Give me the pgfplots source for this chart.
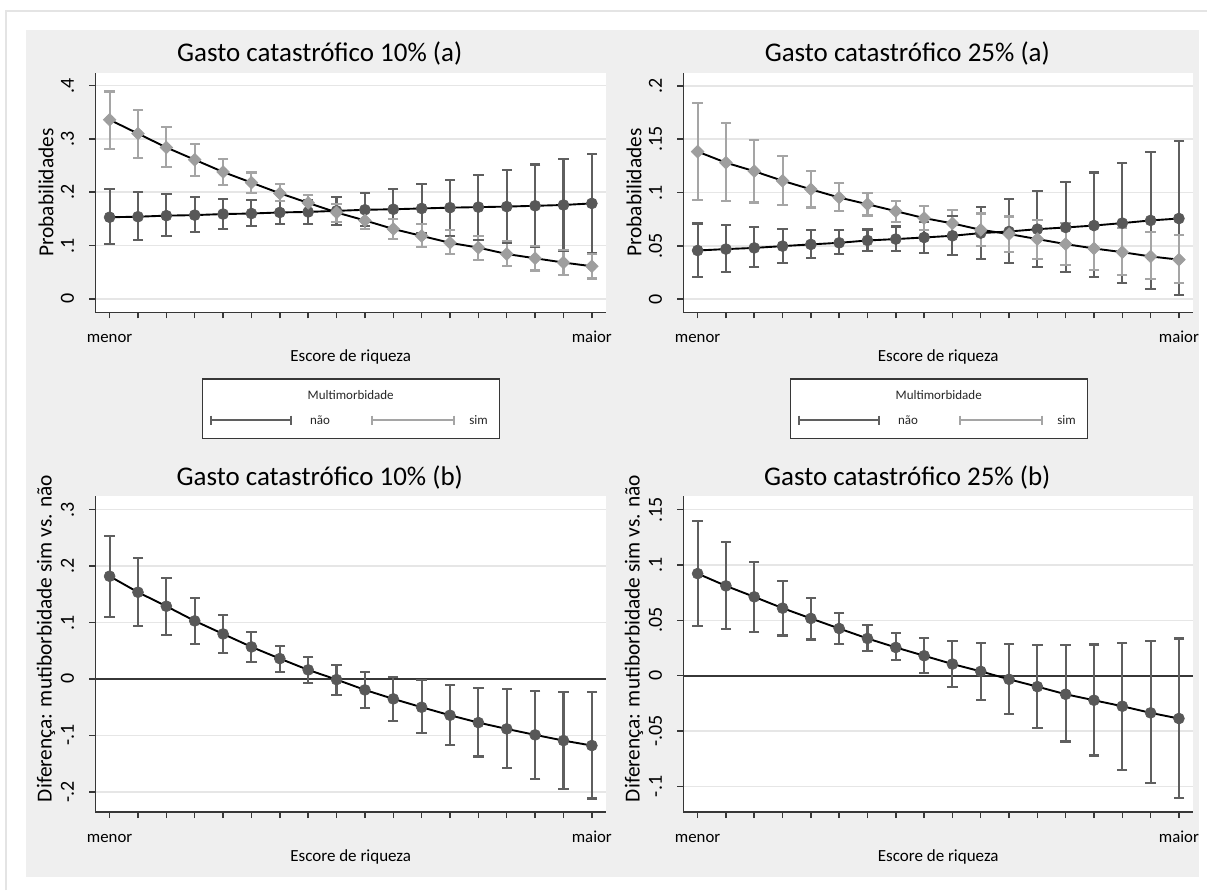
\documentclass[border=0pt]{standalone}
\usepackage{fontspec}
\setmainfont{Carlito}
\usepackage{pgfplots}
\pgfplotsset{compat=1.18}
\usepackage{pgfplotstable}

\definecolor{darkser}{RGB}{88,88,88}
\definecolor{darkerr}{RGB}{95,95,95}
\definecolor{lightser}{RGB}{158,158,158}
\definecolor{lighterr}{RGB}{165,165,165}
\definecolor{panelbg}{RGB}{239,239,239}
\definecolor{gridc}{RGB}{230,230,230}
\definecolor{axisc}{RGB}{55,55,55}
\definecolor{framec}{RGB}{228,228,228}

\newcommand{\titlefont}{\fontsize{13.5bp}{16bp}\selectfont}
\newcommand{\ylfont}{\fontsize{10.7bp}{12bp}\selectfont}
\newcommand{\ytfont}{\fontsize{10bp}{11bp}\selectfont}
\newcommand{\xtfont}{\fontsize{8.4bp}{10bp}\selectfont}
\newcommand{\xlfont}{\fontsize{8.5bp}{10bp}\selectfont}
\newcommand{\legfont}{\fontsize{6.5bp}{8bp}\selectfont}

% 10% (a): nao
\pgfplotstableread{
x y lo hi
1 .153 .102 .206
2 .154 .110 .200
3 .156 .117 .196
4 .157 .125 .191
5 .159 .131 .187
6 .160 .136 .185
7 .162 .140 .184
8 .163 .141 .186
9 .165 .139 .191
10 .167 .136 .198
11 .168 .130 .206
12 .1695 .124 .215
13 .171 .118 .223
14 .172 .110 .233
15 .173 .104 .242
16 .1745 .097 .252
17 .176 .090 .262
18 .179 .085 .272
}\tlnao
% 10% (a): sim
\pgfplotstableread{
x y lo hi
1 .336 .281 .389
2 .310 .264 .355
3 .284 .247 .322
4 .261 .231 .291
5 .238 .214 .263
6 .218 .198 .237
7 .198 .183 .215
8 .180 .166 .195
9 .162 .144 .178
10 .147 .131 .163
11 .131 .112 .150
12 .118 .098 .140
13 .105 .084 .129
14 .096 .073 .118
15 .084 .062 .108
16 .076 .053 .099
17 .068 .045 .092
18 .061 .038 .084
}\tlsim
% 25% (a): nao
\pgfplotstableread{
x y lo hi
1 .0456 .0206 .0709
2 .0469 .0250 .0694
3 .0480 .0297 .0678
4 .0497 .0340 .0660
5 .0513 .0387 .0647
6 .0528 .0422 .0644
7 .0550 .0450 .0653
8 .0563 .0450 .0681
9 .0578 .0434 .0722
10 .0594 .0410 .0778
11 .0619 .0378 .0860
12 .0634 .0338 .0937
13 .0656 .0297 .1016
14 .0672 .0250 .1100
15 .0690 .0203 .1188
16 .0713 .0150 .1280
17 .0738 .0097 .1384
18 .0756 .0040 .1484
}\trnao
% 25% (a): sim
\pgfplotstableread{
x y lo hi
1 .1384 .0928 .1838
2 .1280 .0919 .1656
3 .1200 .0906 .1490
4 .1110 .0884 .1340
5 .1030 .0859 .1200
6 .0953 .0830 .1090
7 .0890 .0784 .0994
8 .0825 .0722 .0922
9 .0760 .0650 .0875
10 .0710 .0580 .0840
11 .0650 .0500 .0803
12 .0610 .0440 .0775
13 .0563 .0378 .0740
14 .0516 .0320 .0713
15 .0475 .0270 .0688
16 .0440 .0225 .0666
17 .0400 .0188 .0630
18 .0370 .0153 .0600
}\trsim
% 10% (b)
\pgfplotstableread{
x y lo hi
1 .182 .110 .253
2 .1536 .0933 .215
3 .1288 .0774 .1796
4 .1028 .062 .144
5 .0797 .0467 .1128
6 .0567 .0301 .0839
7 .036 .013 .0585
8 .016 -.0071 .0396
9 -.0012 -.029 .0242
10 -.0195 -.0514 .0124
11 -.0354 -.0744 .003
12 -.0502 -.0957 -.0024
13 -.0644 -.1175 -.0106
14 -.0774 -.1376 -.0154
15 -.0886 -.1577 -.0183
16 -.0992 -.1766 -.0207
17 -.1093 -.1949 -.023
18 -.1181 -.212 -.0236
}\bldif
% 25% (b)
\pgfplotstableread{
x y lo hi
1 .0922 .0447 .140
2 .0811 .0423 .1204
3 .0712 .0396 .1024
4 .061 .0363 .0856
5 .0517 .0327 .0703
6 .0426 .0288 .0565
7 .0336 .0225 .0456
8 .0255 .0138 .0387
9 .018 .0021 .0339
10 .0105 -.0099 .0312
11 .0039 -.0222 .0294
12 -.0033 -.0345 .0285
13 -.0099 -.0471 .0276
14 -.0168 -.0595 .0276
15 -.0222 -.0721 .0282
16 -.0276 -.085 .0297
17 -.0336 -.0973 .0315
18 -.0387 -.1105 .0336
}\brdif

\pgfplotsset{
  panel/.style={
    scale only axis,
    xmin=0.5, xmax=18.5,
    axis x line*=bottom, axis y line*=left,
    axis line style={axisc, line width=0.8bp, -},
    tick align=outside, major tick length=3bp,
    tick style={axisc, line width=0.75bp},
    xtick={1,...,18},
    xticklabels={menor,,,,,,,,,,,,,,,,,maior},
    scaled y ticks=false,
    ymajorgrids, grid style={gridc, line width=0.8bp},
    axis background/.style={fill=white},
    yticklabel style={rotate=90, anchor=south, inner sep=0pt, font=\ytfont},
    yticklabel shift=7.5bp,
    xticklabel style={anchor=north, inner sep=0pt, font=\xtfont, text height=4bp, text depth=0pt},
    xticklabel shift=8bp,
    title style={font=\titlefont, at={(axis description cs:0.5,1)}, anchor=center, xshift=-15.5bp, yshift=3.5bp},
    xlabel style={font=\xlfont, at={(axis description cs:0.5,0)}, anchor=center, yshift=-22.3bp},
    ylabel style={font=\ylfont, at={(axis description cs:0,0.5)}, anchor=center, yshift=24.75bp},
    xlabel={Escore de riqueza},
  },
  cibar/.style={only marks, mark=none, forget plot,
    error bars/.cd, y dir=both, y explicit, error mark=none,
    error bar style={#1, line width=1.05bp, solid}},
  cicap/.style={only marks, mark=-, mark size=2.6bp, forget plot,
    mark options={#1, line width=1.05bp, solid}},
  naoline/.style={black, line width=0.95bp, mark=*, mark size=2.75bp,
    mark options={fill=darkser, draw=darkser, line width=0.3bp, solid}},
  simline/.style={black, line width=0.95bp, mark=square*, mark size=2.25bp,
    mark options={rotate=45, fill=lightser, draw=lightser, line width=0.3bp, solid}},
}

\newcommand{\mylegend}[1]{%
\begin{scope}[x=0.5bp, y=-0.5bp, shift={(#1,0)}]
  \draw[axisc, line width=0.75bp, fill=white] (202.7,379.3) rectangle (500,439);
  \node[font=\legfont, text=black!85] at (351,395) {Multimorbidade};
  \draw[darkerr, line width=1bp] (210.7,420.7) -- (291,420.7);
  \draw[darkerr, line width=1bp] (210.7,416) -- (210.7,425.4);
  \draw[darkerr, line width=1bp] (291,416) -- (291,425.4);
  \node[font=\legfont, text=black!85, anchor=base west, inner sep=0pt] at (310,424.5) {não};
  \draw[lighterr, line width=1bp] (372.7,420.7) -- (454,420.7);
  \draw[lighterr, line width=1bp] (372.7,416) -- (372.7,425.4);
  \draw[lighterr, line width=1bp] (454,416) -- (454,425.4);
  \node[font=\legfont, text=black!85, anchor=base west, inner sep=0pt] at (469.3,424.5) {sim};
\end{scope}}

\begin{document}
\begin{tikzpicture}
\begin{scope}[x=0.5bp, y=-0.5bp]
  \fill[white] (0,0) rectangle (1208,891);
  \fill[panelbg] (26,30) rectangle (1200,878);
  \draw[framec, line width=1bp] (6,891) -- (6,11) -- (1208,11);
\end{scope}

% Top-left
\begin{axis}[panel, at={(47.75bp,-156.35bp)}, anchor=south west,
  width=255.5bp, height=120bp,
  ymin=-0.0257, ymax=0.4244,
  ytick={0,0.1,0.2,0.3,0.4}, yticklabels={0,.1,.2,.3,.4},
  title={Gasto catastrófico 10\% (a)}, ylabel={Probabilidades}]
  \addplot[cibar=darkerr] table[x=x, y=y, y error plus expr=\thisrow{hi}-\thisrow{y}, y error minus expr=\thisrow{y}-\thisrow{lo}] {\tlnao};
  \addplot[cicap=darkerr] table[x=x, y=hi] {\tlnao};
  \addplot[cicap=darkerr] table[x=x, y=lo] {\tlnao};
  \addplot[cibar=lighterr] table[x=x, y=y, y error plus expr=\thisrow{hi}-\thisrow{y}, y error minus expr=\thisrow{y}-\thisrow{lo}] {\tlsim};
  \addplot[cicap=lighterr] table[x=x, y=hi] {\tlsim};
  \addplot[cicap=lighterr] table[x=x, y=lo] {\tlsim};
  \addplot[naoline] table[x=x, y=y] {\tlnao};
  \addplot[simline] table[x=x, y=y] {\tlsim};
\end{axis}

% Top-right
\begin{axis}[panel, at={(342bp,-156.35bp)}, anchor=south west,
  width=255bp, height=120bp,
  ymin=-0.01257, ymax=0.2125,
  ytick={0,0.05,0.1,0.15,0.2}, yticklabels={0,.05,.1,.15,.2},
  title={Gasto catastrófico 25\% (a)}, ylabel={Probabilidades}]
  \addplot[cibar=darkerr] table[x=x, y=y, y error plus expr=\thisrow{hi}-\thisrow{y}, y error minus expr=\thisrow{y}-\thisrow{lo}] {\trnao};
  \addplot[cicap=darkerr] table[x=x, y=hi] {\trnao};
  \addplot[cicap=darkerr] table[x=x, y=lo] {\trnao};
  \addplot[cibar=lighterr] table[x=x, y=y, y error plus expr=\thisrow{hi}-\thisrow{y}, y error minus expr=\thisrow{y}-\thisrow{lo}] {\trsim};
  \addplot[cicap=lighterr] table[x=x, y=hi] {\trsim};
  \addplot[cicap=lighterr] table[x=x, y=lo] {\trsim};
  \addplot[naoline] table[x=x, y=y] {\trnao};
  \addplot[simline] table[x=x, y=y] {\trsim};
\end{axis}

% Bottom-left
\begin{axis}[panel, at={(47.75bp,-406.35bp)}, anchor=south west,
  width=255.5bp, height=158bp,
  ymin=-0.236, ymax=0.3236,
  ytick={-0.2,-0.1,0,0.1,0.2,0.3}, yticklabels={-.2,-.1,0,.1,.2,.3},
  ylabel style={at={(axis description cs:0,0.55)}},
  title={Gasto catastrófico 10\% (b)}, ylabel={Diferença: mutiborbidade sim vs. não}]
  \addplot[axisc, line width=1bp, forget plot] coordinates {(0.5,0) (18.5,0)};
  \addplot[cibar=darkerr] table[x=x, y=y, y error plus expr=\thisrow{hi}-\thisrow{y}, y error minus expr=\thisrow{y}-\thisrow{lo}] {\bldif};
  \addplot[cicap=darkerr] table[x=x, y=hi] {\bldif};
  \addplot[cicap=darkerr] table[x=x, y=lo] {\bldif};
  \addplot[naoline] table[x=x, y=y] {\bldif};
\end{axis}

% Bottom-right
\begin{axis}[panel, at={(342bp,-406.35bp)}, anchor=south west,
  width=255bp, height=158bp,
  ymin=-0.1232, ymax=0.162,
  ytick={-0.1,-0.05,0,0.05,0.1,0.15}, yticklabels={-.1,-.05,0,.05,.1,.15},
  ylabel style={at={(axis description cs:0,0.55)}},
  title={Gasto catastrófico 25\% (b)}, ylabel={Diferença: mutiborbidade sim vs. não}]
  \addplot[axisc, line width=1bp, forget plot] coordinates {(0.5,0) (18.5,0)};
  \addplot[cibar=darkerr] table[x=x, y=y, y error plus expr=\thisrow{hi}-\thisrow{y}, y error minus expr=\thisrow{y}-\thisrow{lo}] {\brdif};
  \addplot[cicap=darkerr] table[x=x, y=hi] {\brdif};
  \addplot[cicap=darkerr] table[x=x, y=lo] {\brdif};
  \addplot[naoline] table[x=x, y=y] {\brdif};
\end{axis}

\mylegend{0}
\mylegend{588.5}
\end{tikzpicture}
\end{document}
